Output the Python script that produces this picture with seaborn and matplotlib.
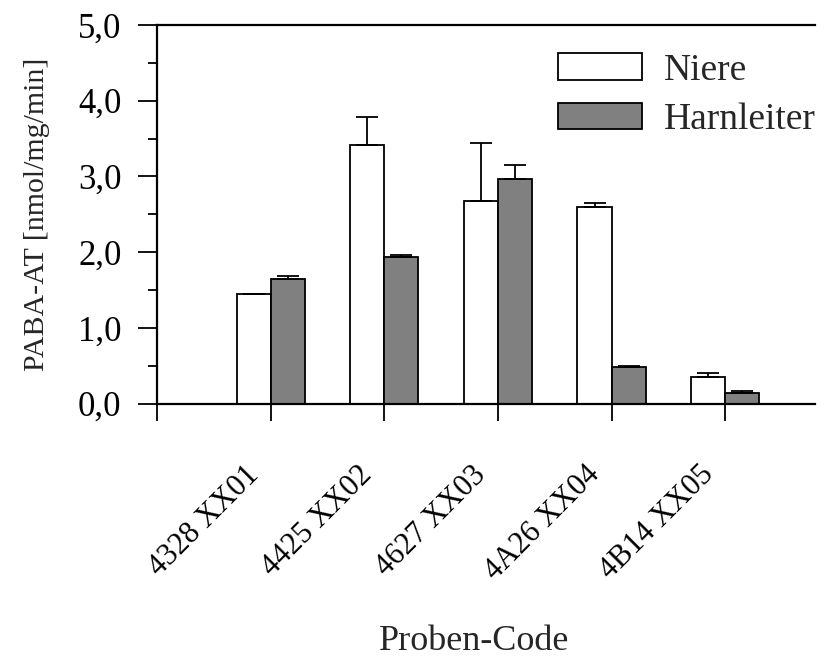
import numpy as np
import pandas as pd
import matplotlib
matplotlib.use("Agg")
import matplotlib.pyplot as plt
from matplotlib.ticker import FuncFormatter, MultipleLocator
from matplotlib.transforms import ScaledTranslation
import seaborn as sns

# Sample codes and measured PABA-AT activity (mean and upper error)
codes = ["4328 XX01", "4425 XX02", "4627 XX03", "4A26 XX04", "4B14 XX05"]
tissues = ["Niere", "Harnleiter"]
niere = [1.45, 3.41, 2.67, 2.59, 0.35]
niere_err = [0.0, 0.37, 0.77, 0.055, 0.05]
harnleiter = [1.64, 1.93, 2.96, 0.48, 0.143]
harnleiter_err = [0.05, 0.03, 0.19, 0.01, 0.022]
y_ticks = [0.0, 1.0, 2.0, 3.0, 4.0, 5.0]

df = pd.DataFrame({
    "code": codes * 2,
    "gewebe": [tissues[0]] * len(codes) + [tissues[1]] * len(codes),
    "wert": niere + harnleiter,
})

sns.set_theme(style="white")
plt.rcParams["font.family"] = ["Liberation Serif", "DejaVu Serif"]

fig = plt.figure(figsize=(8.28, 6.58), dpi=100)
ax = fig.add_axes([157 / 828, 1 - 403.5 / 658, 658 / 828, 378.5 / 658])

sns.barplot(
    data=df, x="code", y="wert", hue="gewebe", hue_order=tissues,
    order=codes, palette=["white", "#808080"], saturation=1,
    edgecolor="black", linewidth=1.3, width=0.6, gap=0,
    errorbar=None, legend=False, ax=ax,
)

# one-sided (upward) error bars on top of each bar
for container, errs in zip(ax.containers, [niere_err, harnleiter_err]):
    xs = [b.get_x() + b.get_width() / 2 for b in container]
    ys = [b.get_height() for b in container]
    ax.errorbar(xs, ys, yerr=[np.zeros(len(errs)), errs], fmt="none",
                ecolor="black", elinewidth=1.3, capsize=8, capthick=1.3,
                zorder=1)

ax.set_ylim(0, 5)
ax.set_xlim(-1, 4.79)
ax.set_yticks(y_ticks)
ax.yaxis.set_minor_locator(MultipleLocator(0.5))
ax.yaxis.set_major_formatter(FuncFormatter(lambda v, p: f"{v:.1f}".replace(".", ",")))
ax.set_xticks(range(-1, len(codes)))
ax.set_xticklabels([""] + codes)

for s in ["left", "bottom", "top"]:
    ax.spines[s].set_visible(True)
    ax.spines[s].set_color("black")
    ax.spines[s].set_linewidth(1.6)
ax.spines["right"].set_visible(False)

ax.tick_params(axis="y", which="major", direction="out", length=13.5, width=1.3,
               labelsize=25, pad=12, left=True, colors="black")
ax.tick_params(axis="y", which="minor", direction="out", length=6.5, width=1.3,
               left=True, color="black")
ax.tick_params(axis="x", which="major", direction="out", length=12, width=1.3,
               labelsize=22, pad=40, bottom=True, colors="black")
shift = ScaledTranslation(-11 / 100, 0, fig.dpi_scale_trans)
for lbl in ax.get_xticklabels():
    lbl.set_rotation(45)
    lbl.set_rotation_mode("anchor")
    lbl.set_ha("right")
    lbl.set_va("baseline")
    lbl.set_transform(lbl.get_transform() + shift)

ax.set_xlabel("Proben-Code", fontsize=26)
ax.xaxis.set_label_coords((474 - 157) / 658, (403.5 - 650) / 378.5)
ax.xaxis.label.set_va("baseline")
ax.set_ylabel("PABA-AT [nmol/mg/min]", fontsize=21.5)
ax.yaxis.set_label_coords((44 - 157) / 658, 0.5)
ax.yaxis.label.set_va("baseline")

ax.legend(ax.containers, tissues, loc="upper left", frameon=False,
          bbox_to_anchor=((558 - 157) / 658, (403.5 - 53) / 378.5),
          borderpad=0, borderaxespad=0, fontsize=27, handlelength=2.25,
          handleheight=0.72, handletextpad=0.58, labelspacing=0.4)

fig.savefig("out.png", dpi=100, facecolor="white")
